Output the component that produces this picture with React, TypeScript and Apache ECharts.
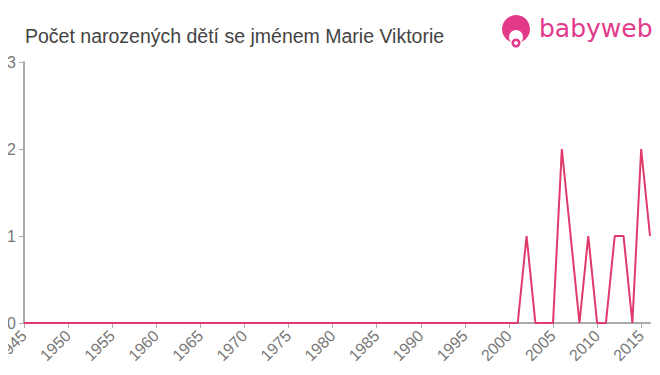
import React, { useEffect, useRef } from "react";
import * as echarts from "echarts";

const titleText = "Počet narozených dětí se jménem Marie Viktorie";
const years: number[] = [];
for (let y = 1945; y <= 2016; y++) years.push(y);
const nonZeroYears = [2002, 2006, 2007, 2009, 2012, 2013, 2015, 2016];
const nonZeroValues = [1, 2, 1, 1, 1, 1, 2, 1];
const counts = years.map((y) => {
  const i = nonZeroYears.indexOf(y);
  return i >= 0 ? nonZeroValues[i] : 0;
});

export default function App() {
  const ref = useRef<HTMLDivElement>(null);
  useEffect(() => {
    if (!ref.current) return;
    const chart = echarts.init(ref.current, undefined, { renderer: "svg" });
    const pink = "#e0396b";
    chart.setOption({
      animation: false,
      title: {
        text: titleText,
        left: 20,
        top: 21,
        textStyle: { fontSize: 19.5, fontWeight: "normal", color: "#444", fontFamily: "Liberation Sans, Arial, sans-serif" },
      },
      grid: { left: 24, right: 10, top: 62, bottom: 52, containLabel: false, outerBoundsMode: "none" },
      xAxis: {
        type: "value",
        min: 1945,
        max: 2016,
        interval: 5,
        axisLine: { lineStyle: { color: "#aaa", width: 2 } },
        axisTick: { show: true, length: 5, lineStyle: { color: "#aaa" } },
        splitLine: { show: false },
        axisLabel: {
          rotate: 45,
          color: "#777",
          fontSize: 16,
          fontFamily: "Liberation Sans, Arial, sans-serif",
          margin: 10,
          showMaxLabel: false,
          formatter: (v: number) => String(v),
        },
      },
      yAxis: {
        type: "value",
        min: 0,
        max: 3,
        interval: 1,
        axisLine: { show: true, lineStyle: { color: "#aaa", width: 2 } },
        axisTick: { show: true, length: 5, lineStyle: { color: "#aaa" } },
        splitLine: { show: false },
        axisLabel: { color: "#777", fontSize: 16, fontFamily: "Liberation Sans, Arial, sans-serif", margin: 8 },
      },
      series: [
        {
          type: "line",
          data: years.map((y, i) => [y, counts[i]]),
          showSymbol: false,
          lineStyle: { color: pink, width: 2 },
          itemStyle: { color: pink },
        },
      ],
      graphic: [
        { type: "circle", shape: { cx: 516, cy: 29, r: 14 }, style: { fill: "#e2398a" } },
        { type: "circle", shape: { cx: 516, cy: 37, r: 7 }, style: { fill: "#fff" } },
        { type: "circle", shape: { cx: 516, cy: 43, r: 4.5 }, style: { fill: "#e2398a" } },
        { type: "circle", shape: { cx: 516, cy: 43, r: 2 }, style: { fill: "#fff" } },
        {
          type: "text",
          left: 539,
          top: 16,
          style: {
            text: "babyweb",
            fill: "#e2398a",
            fontSize: 25,
            fontFamily: "DejaVu Sans, sans-serif",
          },
        },
      ],
    });
    return () => chart.dispose();
  }, []);
  return <div ref={ref} style={{ width: 660, height: 375, margin: -8 }} />;
}
